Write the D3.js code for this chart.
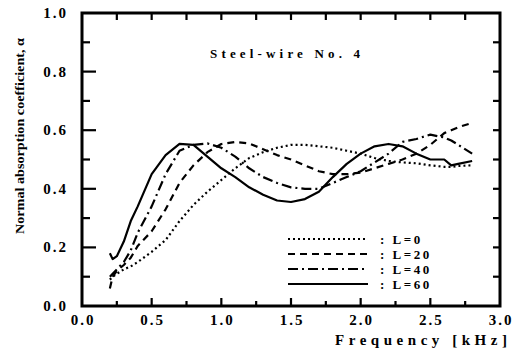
<!DOCTYPE html>
<html><head><meta charset="utf-8">
<script src="https://cdn.jsdelivr.net/npm/d3@7"></script>
<style>html,body{margin:0;padding:0;background:#fff;}svg{display:block;}</style>
</head><body>
<script>
const freq   = [0.2,0.22,0.25,0.3,0.35,0.4,0.5,0.6,0.7,0.8,0.9,1.0,1.1,1.2,1.3,1.4,1.5,1.6,1.7,1.8,1.9,2.0,2.1,2.2,2.3,2.4,2.5,2.6,2.65,2.7,2.8];
const alphaL0  = [0.09,0.10,0.11,0.125,0.135,0.15,0.185,0.225,0.29,0.345,0.39,0.43,0.47,0.505,0.525,0.54,0.55,0.55,0.545,0.54,0.53,0.52,0.505,0.495,0.49,0.487,0.48,0.475,0.475,0.478,0.48];
const alphaL20 = [0.06,0.10,0.12,0.14,0.165,0.205,0.255,0.33,0.42,0.48,0.525,0.553,0.56,0.555,0.535,0.515,0.50,0.48,0.46,0.45,0.45,0.455,0.47,0.485,0.50,0.52,0.55,0.59,0.60,0.61,0.625];
const alphaL40 = [0.10,0.11,0.125,0.15,0.19,0.25,0.34,0.45,0.53,0.55,0.555,0.54,0.51,0.47,0.44,0.42,0.405,0.40,0.40,0.42,0.44,0.46,0.49,0.52,0.56,0.57,0.585,0.575,0.565,0.55,0.52];
const alphaL60 = [0.18,0.16,0.17,0.22,0.29,0.34,0.45,0.515,0.553,0.55,0.51,0.47,0.44,0.405,0.38,0.36,0.355,0.365,0.39,0.44,0.485,0.52,0.545,0.553,0.545,0.52,0.50,0.50,0.48,0.485,0.495];
const seriesNames = ["L=0","L=20","L=40","L=60"];
const seriesValues = [alphaL0, alphaL20, alphaL40, alphaL60];
const xTicks = [0.0,0.5,1.0,1.5,2.0,2.5,3.0];
const yTicks = [0.0,0.2,0.4,0.6,0.8,1.0];
const titleText = "Steel-wire No. 4";
const xLabel = "Frequency [kHz]";
const yLabel = "Normal absorption coefficient, \u03b1";

const W = 518, H = 350;
const m = {left:82, top:13, right:18, bottom:44};
const svg = d3.select("body").append("svg").attr("width",W).attr("height",H);
const x = d3.scaleLinear().domain([0,3]).range([m.left, W-m.right]);
const y = d3.scaleLinear().domain([0,1]).range([H-m.bottom, m.top]);
const font = "'Liberation Serif','Times New Roman',serif";
const dashes = ["2,3","7,5","10,4,2,4",null];

// frame
svg.append("rect").attr("x",x(0)).attr("y",y(1)).attr("width",x(3)-x(0)).attr("height",y(0)-y(1))
  .attr("fill","none").attr("stroke","#000").attr("stroke-width",3);

// ticks (inward)
const g = svg.append("g").attr("stroke","#000").attr("stroke-width",2.2);
d3.range(0,1.0001,0.1).forEach((v,i)=>{
  if (i===0||i===10) return;
  const major = i%2===0;
  g.append("line").attr("x1",x(0)).attr("x2",x(0)+(major?14:8)).attr("y1",y(v)).attr("y2",y(v));
  g.append("line").attr("x1",x(3)).attr("x2",x(3)-7).attr("y1",y(v)).attr("y2",y(v));
});
d3.range(0,3.0001,0.25).forEach((v,i)=>{
  if (i===0||i===12) return;
  const major = i%2===0;
  g.append("line").attr("x1",x(v)).attr("x2",x(v)).attr("y1",y(0)).attr("y2",y(0)-(major?8:5));
  g.append("line").attr("x1",x(v)).attr("x2",x(v)).attr("y1",y(1)).attr("y2",y(1)+7);
});

// tick labels
svg.append("g").selectAll("text").data(yTicks).join("text")
  .attr("x",x(0)-14).attr("y",d=>y(d)+5).attr("text-anchor","end")
  .attr("font-family",font).attr("font-weight","bold").attr("font-size",15)
  .attr("letter-spacing","2px").text(d=>d.toFixed(1));
svg.append("g").selectAll("text").data(xTicks).join("text")
  .attr("x",d=>x(d)+1).attr("y",y(0)+19).attr("text-anchor","middle")
  .attr("font-family",font).attr("font-weight","bold").attr("font-size",15)
  .attr("letter-spacing","2px").text(d=>d.toFixed(1));

// axis titles
svg.append("text").attr("x",335).attr("y",345).attr("font-family",font).attr("font-weight","bold")
  .attr("font-size",15).attr("textLength",172).attr("lengthAdjust","spacing").text(xLabel);
svg.append("text").attr("transform","translate(24,234) rotate(-90)")
  .attr("font-family",font).attr("font-weight","bold").attr("font-size",12)
  .attr("textLength",196).attr("lengthAdjust","spacingAndGlyphs").text(yLabel);
svg.append("text").attr("x",210).attr("y",58).attr("font-family",font).attr("font-weight","bold")
  .attr("font-size",13).attr("textLength",150).attr("lengthAdjust","spacing").text(titleText);

// curves
const line = d3.line().x((d,i)=>x(freq[i])).y(d=>y(d));
seriesValues.forEach((vals,k)=>{
  const p = svg.append("path").attr("d",line(vals)).attr("fill","none")
    .attr("stroke","#000").attr("stroke-width",2.2).attr("stroke-linejoin","round");
  if (dashes[k]) p.attr("stroke-dasharray",dashes[k]);
});

// legend
const ly = [239,254,269,284];
seriesNames.forEach((nm,k)=>{
  const l = svg.append("line").attr("x1",288).attr("x2",368).attr("y1",ly[k]).attr("y2",ly[k])
    .attr("stroke","#000").attr("stroke-width",2.2);
  if (dashes[k]) l.attr("stroke-dasharray",dashes[k]);
  svg.append("text").attr("x",380).attr("y",ly[k]+5).attr("font-family",font).attr("font-weight","bold")
    .attr("font-size",13).attr("letter-spacing","2.5px").text(": "+nm);
});
</script>
</body></html>
